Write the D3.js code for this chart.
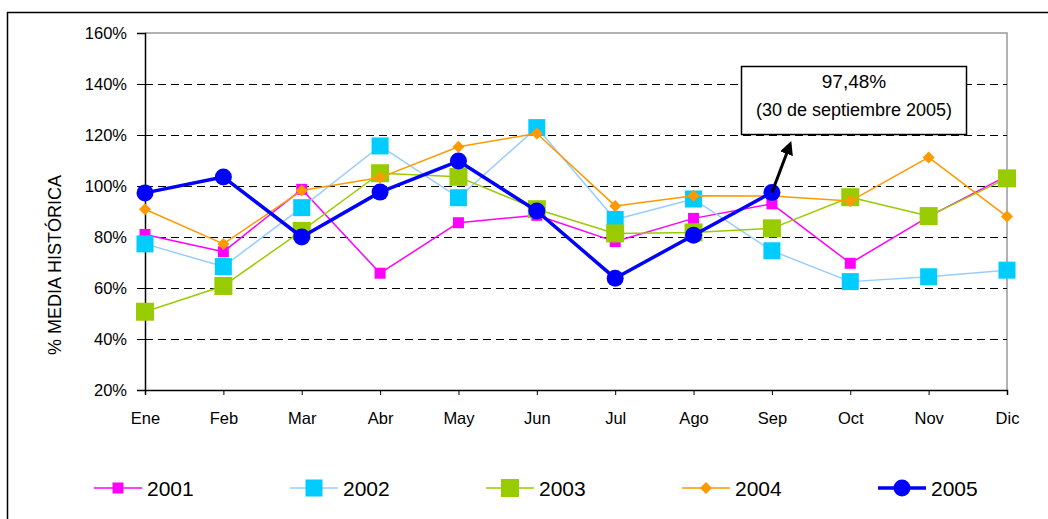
<!DOCTYPE html>
<meta charset="utf-8">
<style>
  body { margin: 0; background: #fff; }
  text { font-family: "Liberation Sans", Arial, sans-serif; fill: #000; }
</style>
<svg width="1048" height="519"></svg>
<script src="https://d3js.org/d3.v7.min.js"></script>
<script>
var months = ["Ene", "Feb", "Mar", "Abr", "May", "Jun", "Jul", "Ago", "Sep", "Oct", "Nov", "Dic"];
var yTicks = [20, 40, 60, 80, 100, 120, 140, 160];

var v2001 = [81, 74.2, 98.7, 65.8, 85.6, 88.5, 78.2, 87.3, 93, 69.7, 88, 104];
var v2002 = [77.3, 68.4, 91.5, 115.7, 95.4, 122.9, 86.9, 94.9, 74.6, 62.5, 64.4, 67];
var v2003 = [50.7, 60.8, 82.4, 105, 103.6, 90.9, 81.4, 81.8, 83.4, 95.6, 88.2, 103];
var v2004 = [90.9, 77.3, 98.2, 103.3, 115.4, 120.6, 92.2, 96.2, 96.1, 94.1, 111.2, 88];
var v2005 = [97.3, 103.5, 80, 97.6, 109.8, 90.2, 63.8, 80.7, 97.48];

var series = [
  { name: "2001", values: v2001, line: "#FF00FF", fill: "#FF00FF", width: 1.5, shape: "square", size: 11 },
  { name: "2002", values: v2002, line: "#99CCFF", fill: "#00CCFF", width: 1.5, shape: "square", size: 17 },
  { name: "2003", values: v2003, line: "#99CC00", fill: "#99CC00", width: 1.5, shape: "square", size: 18 },
  { name: "2004", values: v2004, line: "#FF9900", fill: "#FF9900", width: 1.5, shape: "diamond", size: 10 },
  { name: "2005", values: v2005, line: "#0000FF", fill: "#0000FF", width: 3.5, shape: "circle", size: 17 }
];

var svg = d3.select("svg");

// outer chart frame (runs off right/bottom edges)
svg.append("rect")
  .attr("x", 7.5).attr("y", 12.5)
  .attr("width", 1100).attr("height", 600)
  .attr("fill", "none").attr("stroke", "#000").attr("stroke-width", 1.5);

var x = d3.scalePoint().domain(months).range([145, 1007]);
var y = d3.scaleLinear().domain([20, 160]).range([390, 33]);

// plot area border (gray top/right)
svg.append("path")
  .attr("d", "M145," + y(160) + "H1007V" + y(20))
  .attr("fill", "none").attr("stroke", "#999").attr("stroke-width", 1.5);

// dashed grid lines
svg.append("g").selectAll("line")
  .data(yTicks.filter(function (d) { return d > 20 && d < 160; }))
  .enter().append("line")
    .attr("x1", 145).attr("x2", 1007)
    .attr("y1", function (d) { return Math.round(y(d)) + 0.5; })
    .attr("y2", function (d) { return Math.round(y(d)) + 0.5; })
    .attr("stroke", "#000").attr("stroke-width", 1)
    .attr("stroke-dasharray", "8,5");

// y axis
var yAxis = svg.append("g")
  .attr("transform", "translate(145,0)")
  .call(d3.axisLeft(y).tickValues(yTicks).tickSize(8).tickPadding(10)
    .tickFormat(function (d) { return d + "%"; }));
yAxis.select(".domain").attr("stroke", "#000").attr("stroke-width", 1.5);
yAxis.selectAll("text").attr("font-size", 16.5);

// x axis
var xAxis = svg.append("g")
  .attr("transform", "translate(0,390)")
  .call(d3.axisBottom(x).tickSizeOuter(0).tickSize(5).tickPadding(17));
xAxis.select(".domain").attr("stroke", "#000").attr("stroke-width", 1.5);
xAxis.selectAll("text").attr("font-size", 16.5);

// axis title
svg.append("text")
  .attr("transform", "translate(61,265) rotate(-90)")
  .attr("text-anchor", "middle")
  .attr("font-size", 18)
  .text("% MEDIA HISTÓRICA");

function drawMarker(g, s, cx, cy) {
  if (s.shape === "circle") {
    g.append("circle").attr("cx", cx).attr("cy", cy).attr("r", s.size / 2).attr("fill", s.fill);
  } else if (s.shape === "diamond") {
    var h = s.size / 2 + 1;
    g.append("path")
      .attr("d", "M" + cx + "," + (cy - h) + "L" + (cx + h) + "," + cy + "L" + cx + "," + (cy + h) + "L" + (cx - h) + "," + cy + "Z")
      .attr("fill", s.fill);
  } else {
    g.append("rect")
      .attr("x", cx - s.size / 2).attr("y", cy - s.size / 2)
      .attr("width", s.size).attr("height", s.size).attr("fill", s.fill);
  }
}

var line = d3.line()
  .x(function (d, i) { return x(months[i]); })
  .y(function (d) { return y(d); });

series.forEach(function (s) {
  var g = svg.append("g");
  g.append("path")
    .attr("d", line(s.values))
    .attr("fill", "none").attr("stroke", s.line).attr("stroke-width", s.width)
    .attr("stroke-linejoin", "round");
  s.values.forEach(function (v, i) { drawMarker(g, s, x(months[i]), y(v)); });
});

// annotation arrow + box
var sepX = x("Sep"), sepY = y(97.48);
svg.append("defs").append("marker")
  .attr("id", "arrow").attr("viewBox", "0 0 10 10")
  .attr("refX", 5).attr("refY", 5)
  .attr("markerWidth", 4.5).attr("markerHeight", 4.5)
  .attr("orient", "auto")
  .append("path").attr("d", "M0,0L10,5L0,10Z").attr("fill", "#000");
svg.append("line")
  .attr("x1", sepX).attr("y1", sepY)
  .attr("x2", sepX + 17).attr("y2", sepY - 45)
  .attr("stroke", "#000").attr("stroke-width", 3)
  .attr("marker-end", "url(#arrow)");

svg.append("rect")
  .attr("x", 741.5).attr("y", 66.5).attr("width", 225).attr("height", 68)
  .attr("fill", "#fff").attr("stroke", "#000").attr("stroke-width", 1.5);
svg.append("text")
  .attr("x", 854).attr("y", 88).attr("text-anchor", "middle").attr("font-size", 19)
  .text("97,48%");
svg.append("text")
  .attr("x", 854).attr("y", 116).attr("text-anchor", "middle").attr("font-size", 18)
  .text("(30 de septiembre 2005)");

// legend
var legend = svg.append("g").selectAll("g")
  .data(series)
  .enter().append("g")
    .attr("transform", function (d, i) { return "translate(" + (118 + i * 196) + ",488)"; });
legend.append("line")
  .attr("x1", -24).attr("x2", 24)
  .attr("stroke", function (d) { return d.line; })
  .attr("stroke-width", function (d) { return d.width; });
legend.each(function (d) { drawMarker(d3.select(this), d, 0, 0); });
legend.append("text")
  .attr("x", 29).attr("y", 7.5).attr("font-size", 21)
  .text(function (d) { return d.name; });
</script>
